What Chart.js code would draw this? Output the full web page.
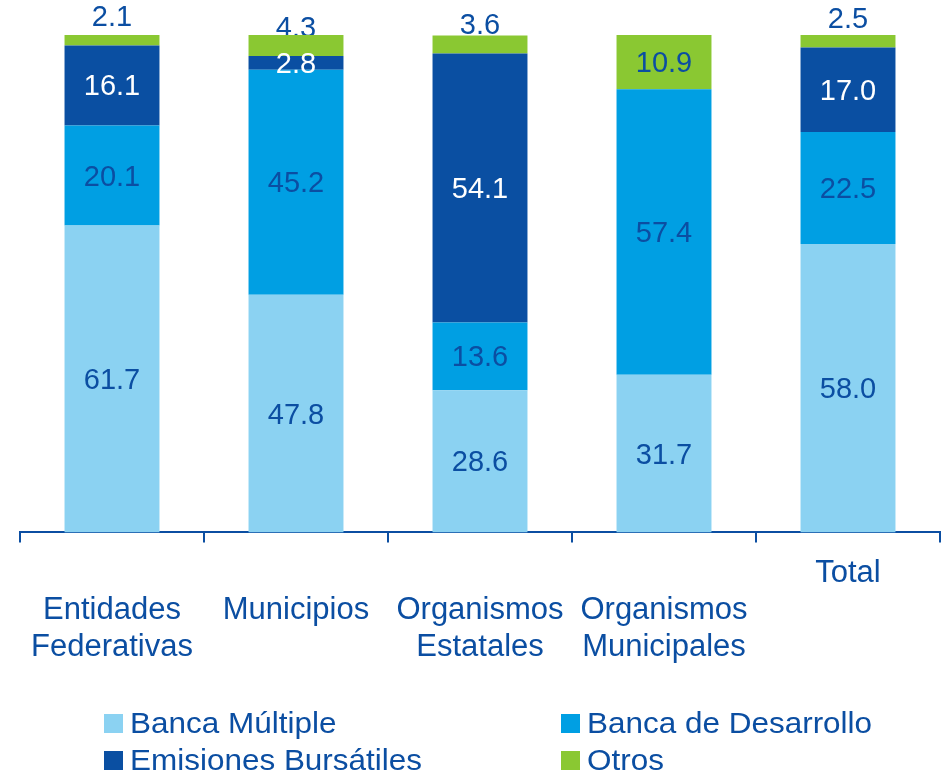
<!DOCTYPE html>
<html>
<head>
<meta charset="utf-8">
<script src="https://cdn.jsdelivr.net/npm/chart.js@4.4.1/dist/chart.umd.min.js"></script>
<style>
  body { margin:0; background:#fff; }
  #wrap { position:relative; width:947px; height:774px; }
  #legend { position:absolute; left:0; top:0; width:947px; height:774px; pointer-events:none;
    font-family:"Liberation Sans", Arial, sans-serif; font-size:29px; color:#0B4EA2; }
  .item { position:absolute; display:flex; align-items:center; white-space:nowrap; }
  .item i { display:inline-block; width:19px; height:19px; margin-right:7px; }
  .item span { display:inline-block; transform:scaleX(1.085); transform-origin:left center; }
</style>
</head>
<body>
<div id="wrap">
  <canvas id="barChart" width="947" height="774"></canvas>
  <div id="legend"></div>
</div>
<script>
// Data
const categories = [
  ['', 'Entidades', 'Federativas'],
  ['', 'Municipios'],
  ['', 'Organismos', 'Estatales'],
  ['', 'Organismos', 'Municipales'],
  ['Total']
];
const seriesNames = ['Banca Múltiple', 'Banca de Desarrollo', 'Emisiones Bursátiles', 'Otros'];
const bancaMultiple   = [61.7, 47.8, 28.6, 31.7, 58.0];
const bancaDesarrollo = [20.1, 45.2, 13.6, 57.4, 22.5];
const emisiones       = [16.1, 2.8, 54.1, 0, 17.0];
const otros           = [2.1, 4.3, 3.6, 10.9, 2.5];

const colors = ['#8BD2F2', '#009FE3', '#0A4FA2', '#8AC832'];
const labelColors = ['#0B4EA2', '#0B4EA2', '#ffffff', '#0B4EA2'];
const textBlue = '#0B4EA2';
const fontFamily = '"Liberation Sans", Arial, sans-serif';

// Value labels: small "Otros" values sit above the bar (drawn under it)
function drawValues(chart, outside) {
  const ctx = chart.ctx;
  const last = chart.data.datasets.length - 1;
  ctx.save();
  ctx.font = '29px ' + fontFamily;
  ctx.textAlign = 'center';
  ctx.textBaseline = 'middle';
  chart.data.datasets.forEach((ds, i) => {
    chart.getDatasetMeta(i).data.forEach((bar, j) => {
      const v = ds.data[j];
      if (!v) return;
      const isOut = i === last && v < 8;
      if (isOut !== outside) return;
      const y = isOut ? bar.base - 27 : (bar.y + bar.base) / 2 + 2;
      ctx.fillStyle = labelColors[i];
      ctx.fillText(v.toFixed(1), bar.x, y);
    });
  });
  ctx.restore();
}
const valueLabels = {
  id: 'valueLabels',
  beforeDatasetsDraw(chart) { drawValues(chart, true); },
  afterDatasetsDraw(chart) { drawValues(chart, false); }
};

const chart = new Chart(document.getElementById('barChart').getContext('2d'), {
  type: 'bar',
  data: {
    labels: categories,
    datasets: [bancaMultiple, bancaDesarrollo, emisiones, otros].map((d, i) => ({
      label: seriesNames[i], data: d, backgroundColor: colors[i],
      borderWidth: 0, categoryPercentage: 1, barPercentage: 0.516
    }))
  },
  options: {
    responsive: false,
    animation: false,
    layout: { padding: { left: 20, right: 7, top: 35, bottom: 96 } },
    plugins: { legend: { display: false }, tooltip: { enabled: false } },
    scales: {
      x: {
        stacked: true,
        offset: true,
        grid: { offset: true, drawOnChartArea: false, drawTicks: true, tickLength: 10, color: textBlue, lineWidth: 2 },
        border: { color: textBlue, width: 2 },
        ticks: { color: textBlue, font: { family: fontFamily, size: 31, lineHeight: 1.2 }, padding: 12, maxRotation: 0, autoSkip: false }
      },
      y: { stacked: true, display: false, min: 0, max: 100 }
    }
  },
  plugins: [valueLabels]
});

// Legend (two columns)
const legendPos = [[104, 723], [561, 723], [104, 760], [561, 760]];
const legend = document.getElementById('legend');
seriesNames.forEach((name, i) => {
  const el = document.createElement('div');
  el.className = 'item';
  el.style.left = legendPos[i][0] + 'px';
  el.style.top = (legendPos[i][1] - 18) + 'px';
  el.style.height = '36px';
  el.innerHTML = `<i style="background:${colors[i]}"></i><span>${name}</span>`;
  legend.appendChild(el);
});
</script>
</body>
</html>
